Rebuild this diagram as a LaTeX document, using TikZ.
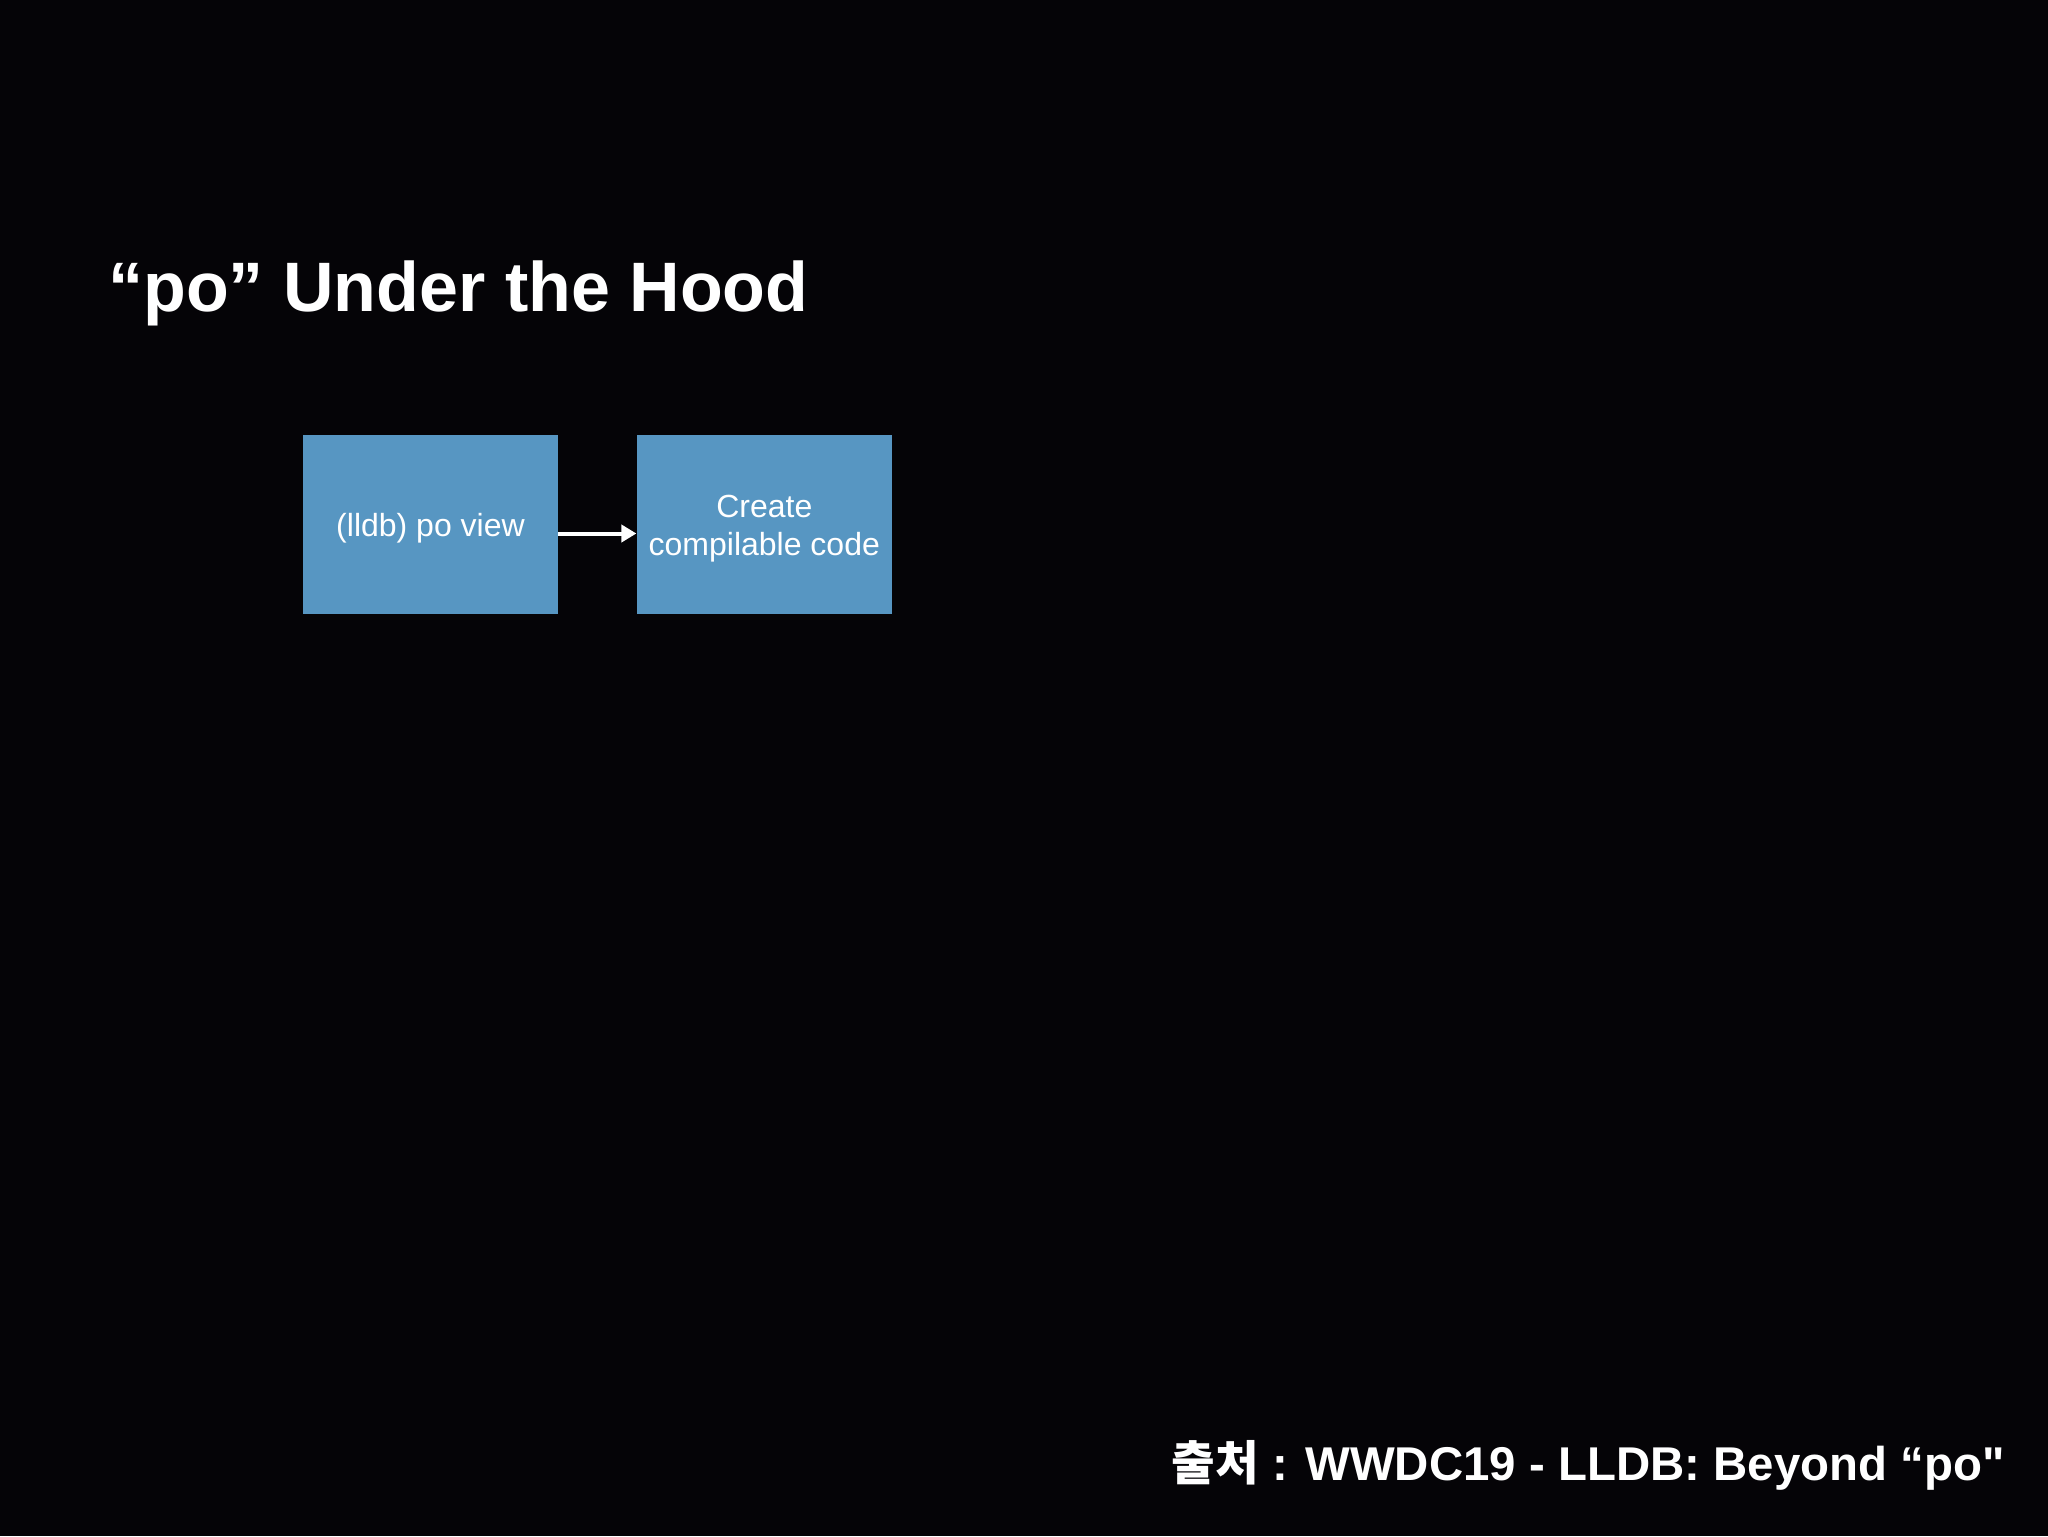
\documentclass[tikz,border=0pt]{standalone}
\usepackage{fontspec}
\setmainfont{Liberation Sans}
\newfontfamily\footfont{Liberation Sans}
\newfontfamily\kofont{Noto Sans CJK KR}
\usetikzlibrary{arrows.meta,positioning}
\definecolor{slidebg}{rgb}{0.02, 0.016, 0.027}
\definecolor{boxblue}{rgb}{0.34, 0.59, 0.76}
\newcommand{\lowered}[1]{\raisebox{-2pt}[\height][\depth]{#1}}

\begin{document}
\begin{tikzpicture}[x=0.5pt,y=-0.5pt,>={Triangle[length=7.5pt,width=8.5pt]}]
        \tikzstyle{stage}=[rectangle,fill=boxblue,text=white,inner sep=0pt,
            minimum width=127.5pt, minimum height=89.5pt, align=center,
            font=\fontsize{16}{19}\selectfont]
        % Background
        \fill[slidebg] (0,0) rectangle (2048,1536);
        \useasboundingbox (0,0) rectangle (2048,1536);

        % Title
        \node (title)[anchor=base west, inner sep=0pt, text=white,
            font=\fontsize{35}{42}\bfseries] at (108,311) {“po” Under the Hood};

        % Boxes
        \node (lldb)[stage] at (430.5,524.5) {\lowered{(lldb) po view}};
        \node (compile)[stage, right=39pt of lldb]
            {\lowered{\begin{tabular}{@{}c@{}}Create\\compilable code\end{tabular}}};

        % Arrow between them
        \draw[->, white, line width=2pt]
        ([yshift=-4.5pt]lldb.east) -- ([yshift=-4.5pt]compile.west);

        % Source
        \node (source)[anchor=base east, inner sep=0pt, text=white,
            font=\fontsize{23.7}{28}\footfont\bfseries] at (2005,1480)
            {{\kofont\bfseries 출처} : WWDC19 - LLDB: Beyond “po"};
\end{tikzpicture}
\end{document}
